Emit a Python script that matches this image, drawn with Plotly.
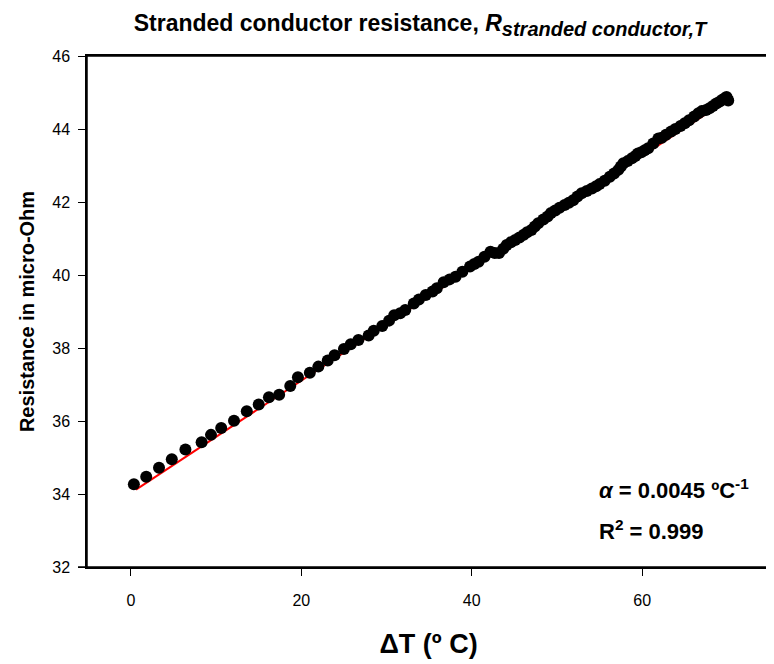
import plotly.graph_objects as go

# Measured data: temperature rise (deg C) and resistance (micro-Ohm)
delta_t = [0.35, 1.8, 3.3, 4.8, 6.4, 8.3, 9.4, 10.6, 12.1, 13.6, 15.0, 16.2, 17.4, 18.7, 19.6,
           21.0, 22.0, 23.1, 23.9, 25.0, 25.8, 26.7, 27.9, 28.5, 29.5, 30.3, 30.9, 31.6, 32.2,
           33.2, 33.8, 34.6, 35.4, 35.9, 36.7, 37.4, 38.1, 38.9, 39.8, 40.3, 40.8, 41.5, 42.2,
           42.7, 43.2, 43.7, 44.1, 44.6, 45.1, 45.6, 46.1, 46.5, 47.0, 47.4, 47.8, 48.4, 48.9,
           49.3, 49.8, 50.3, 50.9, 51.4, 51.9, 52.4, 52.9, 53.5, 54.1, 54.6, 55.0, 55.6, 56.2,
           56.7, 57.2, 57.5, 57.8, 58.3, 58.8, 59.2, 59.5, 59.9, 60.3, 60.7, 61.3, 61.9, 62.3,
           62.8, 63.4, 63.9, 64.5, 65.0, 65.5, 66.1, 66.6, 67.0, 67.5, 67.9, 68.3, 68.7, 69.1,
           69.4, 69.7, 70.0, 69.9, 70.1]
resistance = [34.27, 34.47, 34.72, 34.95, 35.22, 35.42, 35.62, 35.81, 36.01, 36.27, 36.45, 36.65,
              36.72, 36.96, 37.20, 37.32, 37.49, 37.66, 37.80, 37.97, 38.10, 38.22, 38.34, 38.47,
              38.60, 38.75, 38.90, 38.95, 39.04, 39.22, 39.33, 39.45, 39.55, 39.64, 39.80, 39.88,
              39.95, 40.09, 40.23, 40.30, 40.36, 40.50, 40.64, 40.60, 40.60, 40.72, 40.82, 40.90,
              40.96, 41.03, 41.10, 41.17, 41.23, 41.33, 41.42, 41.52, 41.60, 41.70, 41.77, 41.84,
              41.92, 41.98, 42.05, 42.15, 42.24, 42.30, 42.37, 42.43, 42.49, 42.58, 42.69, 42.78,
              42.88, 42.97, 43.06, 43.12, 43.20, 43.26, 43.33, 43.36, 43.42, 43.47, 43.60, 43.74,
              43.76, 43.84, 43.93, 44.00, 44.08, 44.16, 44.24, 44.34, 44.43, 44.49, 44.52, 44.57,
              44.63, 44.70, 44.75, 44.80, 44.84, 44.82, 44.88, 44.78]

# Linear regression line end points
fit_x = [0.6, 70.0]
fit_y = [34.12, 44.80]

x_ticks = [0, 20, 40, 60]
y_ticks = [32, 34, 36, 38, 40, 42, 44, 46]

FONT = "Arial, 'Liberation Sans', sans-serif"

# The page body has an 8px margin, so the figure is sized to fit the window
W, H = 766, 656
L, R, T, B = 79, 2, 48, 97
pw, ph = W - L - R, H - T - B


def px(x):
    return (x - 8 - L) / pw


def py(y):
    return 1 - (y - 8 - T) / ph


fig = go.Figure()
fig.add_trace(go.Scatter(x=fit_x, y=fit_y, mode="lines",
                         line=dict(color="#ff0000", width=2), showlegend=False))
fig.add_trace(go.Scatter(x=delta_t, y=resistance, mode="markers",
                         marker=dict(color="black", size=12, line=dict(width=0)),
                         showlegend=False))

fig.update_layout(
    width=W, height=H,
    paper_bgcolor="white", plot_bgcolor="white",
    margin=dict(l=L, r=R, t=T, b=B),
    font=dict(family=FONT, color="black"),
    title=dict(
        text="<b>Stranded conductor resistance, <i>R</i><sub><i><span style='font-size:20px'>stranded conductor,T</span></i></sub></b>",
        font=dict(size=23, family=FONT, color="black"),
        x=(420 - 8) / W, xref="container", xanchor="center",
        y=1 - (23 - 8) / H, yref="container", yanchor="middle"),
    xaxis=dict(
        range=[-5.15, 75.0], tickvals=x_ticks, ticks="outside", ticklen=7, tickwidth=1.3,
        tickcolor="black", showline=True, linecolor="black", linewidth=1.5, mirror=True,
        showgrid=False, zeroline=False, tickfont=dict(size=16), ticklabelstandoff=11,
        title=dict(text="<b>\u0394T (\u00ba C)</b>", font=dict(size=27), standoff=26)),
    yaxis=dict(
        range=[32, 46], tickvals=y_ticks, ticks="outside", ticklen=7, tickwidth=1.3,
        tickcolor="black", showline=True, linecolor="black", linewidth=1.5, mirror=True,
        showgrid=False, zeroline=False, tickfont=dict(size=16), ticklabelstandoff=5,
        title=dict(text="<b>Resistance in micro-Ohm</b>", font=dict(size=20), standoff=12)),
    annotations=[
        dict(text="<b><i>\u03b1</i> = 0.0045 \u00baC<sup>-1</sup></b>", x=px(598), y=py(489),
             xref="paper", yref="paper", showarrow=False, font=dict(size=22),
             xanchor="left", yanchor="middle"),
        dict(text="<b>R<sup>2</sup> = 0.999</b>", x=px(598), y=py(530),
             xref="paper", yref="paper", showarrow=False, font=dict(size=22),
             xanchor="left", yanchor="middle"),
    ],
)

# Frame around the plot area and a short extension of the bottom axis
fig.add_shape(type="rect", xref="paper", yref="paper", x0=0, x1=1, y0=0, y1=1,
              line=dict(color="black", width=1.5), layer="above")
fig.add_shape(type="line", xref="paper", yref="paper", x0=-9 / pw, x1=0, y0=0, y1=0,
              line=dict(color="black", width=1.5))

fig.write_html("out.html")
